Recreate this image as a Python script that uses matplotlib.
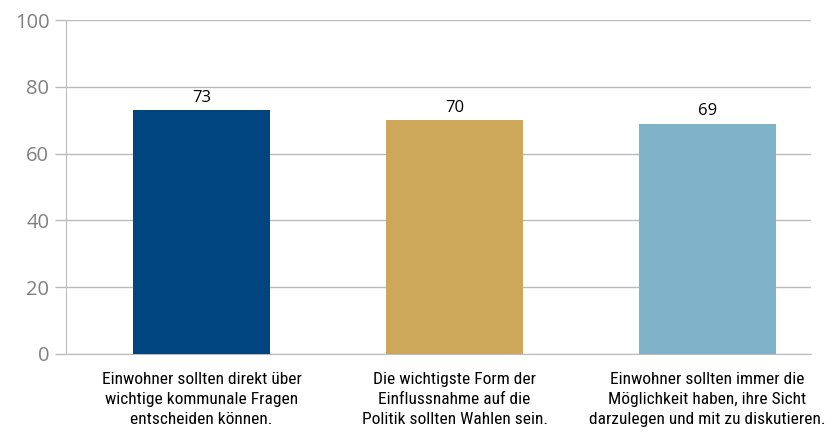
""" bar chart: Einwohner und Politik """

import matplotlib
matplotlib.use("Agg")
import matplotlib.pyplot as plt
import numpy

categories = [
    "Einwohner sollten direkt über\nwichtige kommunale Fragen\nentscheiden können.",
    "Die wichtigste Form der\nEinflussnahme auf die\nPolitik sollten Wahlen sein.",
    "Einwohner sollten immer die\nMöglichkeit haben, ihre Sicht\ndarzulegen und mit zu diskutieren.",
]
values = [73, 70, 69]
colors = ["#004580", "#CDA85A", "#7FB1C9"]
yticks = [0, 20, 40, 60, 80, 100]

plt.rcParams["font.family"] = ["Roboto Condensed", "DejaVu Sans"]

fig = plt.figure(figsize=(8.27, 4.32), dpi=100)
ax = fig.add_axes([0.0798, 0.1806, 0.9009, 0.7731])

x = numpy.arange(len(values))
bars = ax.bar(x, values, width=0.54, color=colors, zorder=3)

for rect, val in zip(bars, values):
    ax.annotate(str(val), (rect.get_x() + rect.get_width() / 2, rect.get_height()),
                xytext=(0, 3), textcoords="offset points",
                ha="center", va="bottom", fontsize=12, color="black",
                family=["Open Sans", "DejaVu Sans"])

ax.set_xlim(-0.536, 2.409)
ax.set_ylim(0, 100)
ax.set_yticks(yticks)
ax.set_yticklabels([str(t) for t in yticks], family=["Open Sans", "DejaVu Sans"])
ax.yaxis.grid(True, color="#bbbbbb", linewidth=1, zorder=0)
ax.tick_params(axis="y", colors="#bbbbbb", labelcolor="#808080", labelsize=14.5, length=8, width=1, pad=4)
ax.tick_params(axis="x", length=0, labelsize=12.5, labelcolor="black", pad=13)
ax.set_xticks(x)
ax.set_xticklabels(categories, linespacing=1.4)

for side in ["top", "right"]:
    ax.spines[side].set_visible(False)
ax.spines["left"].set_color("#bbbbbb")
ax.spines["bottom"].set_color("#bbbbbb")

fig.savefig("out.png", dpi=100)
plt.close(fig)
